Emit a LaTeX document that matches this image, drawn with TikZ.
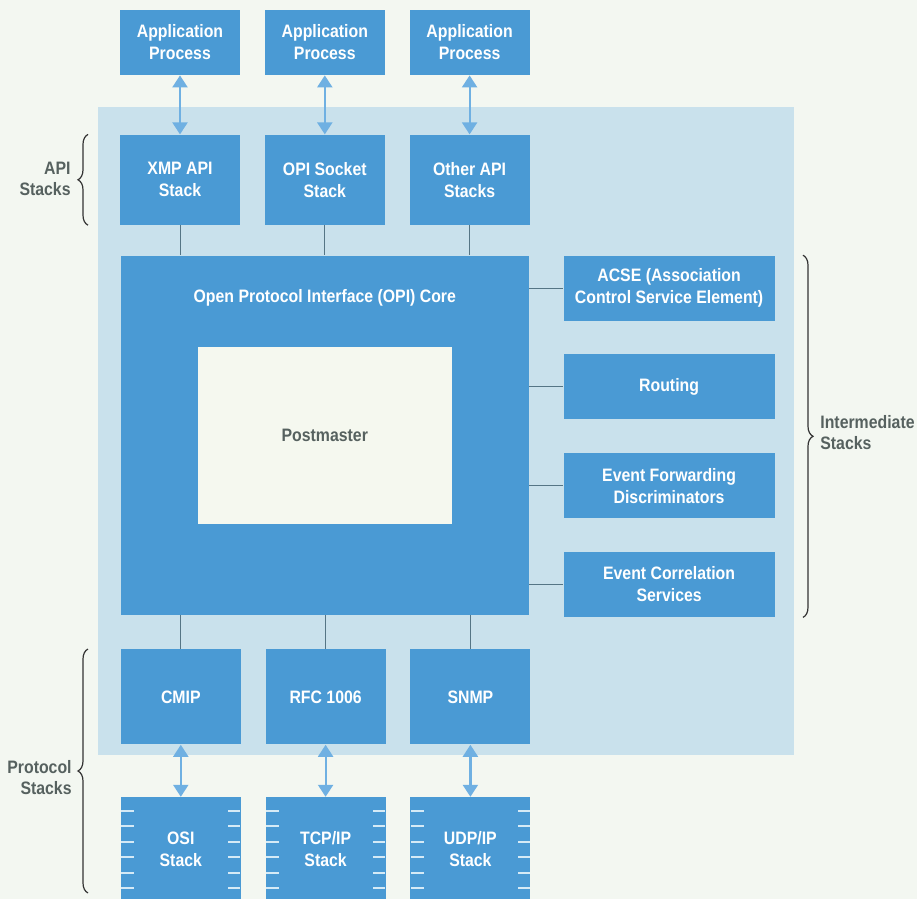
\documentclass[tikz,border=0pt]{standalone}
\usepackage{fontspec}
\setsansfont{Liberation Sans}[FakeStretch=0.88]
\renewcommand{\familydefault}{\sfdefault}
\usetikzlibrary{arrows.meta, positioning, decorations.pathreplacing, calc}
\definecolor{boxblue}{HTML}{4A9AD4}
\definecolor{arrowblue}{HTML}{6FB0E2}
\definecolor{panelblue}{HTML}{C9E1EC}
\definecolor{paper}{HTML}{F3F7F1}
\definecolor{wiregray}{HTML}{557585}
\definecolor{labelgray}{HTML}{56615F}
\definecolor{pmfill}{HTML}{F5F8EF}
\definecolor{tickwhite}{HTML}{D5EAF6}

\begin{document}
\begin{tikzpicture}[
    x=0.5pt, y=-0.5pt,
    box/.style={fill=boxblue, minimum width=60pt, inner sep=0pt, align=center,
                text=white, font=\fontsize{9}{11}\selectfont\bfseries},
    apbox/.style={box, minimum height=32.5pt},
    apibox/.style={box, minimum height=45pt},
    sidebox/.style={box, minimum width=105.5pt, minimum height=32.5pt},
    protobox/.style={box, minimum height=47.5pt},
    netbox/.style={box, minimum height=52pt},
    pmbox/.style={box, fill=pmfill, text=labelgray, minimum width=127pt,
                  minimum height=88.5pt},
    dbl/.style={{Triangle[length=6pt,width=7.5pt]}-{Triangle[length=6pt,width=7.5pt]},
                draw=arrowblue, line width=1.1pt},
    wire/.style={draw=wiregray, line width=0.5pt},
    tick/.style={draw=tickwhite, line width=1pt},
    grp/.style={decorate, decoration={brace, amplitude=5pt}, draw=black!80,
                line width=0.6pt},
    grplabel/.style={font=\fontsize{9}{10.5}\selectfont\bfseries, text=labelgray, inner sep=0pt}
  ]
  % page and panel
  \fill[paper] (0,0) rectangle (917,899);
  \useasboundingbox (0,0) rectangle (917,899);
  \fill[panelblue] (98,107) rectangle (794,755);

  % application processes and API stacks
  \node[apbox] (app1) at (180,42.5) {Application\\Process};
  \node[apbox, right=12pt of app1] (app2) {Application\\Process};
  \node[apbox, right=12pt of app2] (app3) {Application\\Process};
  \node[apibox, below=29.5pt of app1] (api1) {XMP API\\Stack};
  \node[apibox, right=12pt of api1] (api2) {OPI Socket\\Stack};
  \node[apibox, right=12pt of api2] (api3) {Other API\\Stacks};

  % core
  \node[box, minimum width=204pt, minimum height=179.5pt, below=15pt of api2] (core) {};
  \node[box, fill=none, below=17pt of core.north] (coretitle) {Open Protocol Interface (OPI) Core};
  \node[pmbox] (post) at (core.center) {Postmaster};

  % intermediate stacks
  \node[sidebox, right=17pt of core.north east, anchor=north west] (acse) {ACSE (Association\\Control Service Element)};
  \node[sidebox, below=16.5pt of acse] (routing) {Routing};
  \node[sidebox, below=16.5pt of routing] (evfwd) {Event Forwarding\\Discriminators};
  \node[sidebox, below=16.5pt of evfwd] (evcorr) {Event Correlation\\Services};

  % protocol stacks
  \node[protobox, below=17pt of core.south west, anchor=north west] (cmip) {CMIP};
  \node[protobox, right=12pt of cmip] (rfc) {RFC 1006};
  \node[protobox, right=12pt of rfc] (snmp) {SNMP};
  \node[netbox, below=26pt of cmip] (osi) {OSI\\Stack};
  \node[netbox, below=26pt of rfc] (tcp) {TCP/IP\\Stack};
  \node[netbox, below=26pt of snmp] (udp) {UDP/IP\\Stack};

  \foreach \n in {osi, tcp, udp} {
    \foreach \k in {0,...,5} {
      \draw[tick] ($(\n.north west)+(1,14+15.5*\k)$) -- ++(13,0);
      \draw[tick] ($(\n.north east)+(-1,14+15.5*\k)$) -- ++(-12,0);
    }
  }

  % connectors
  \draw[dbl] (app1) -- (api1);
  \draw[dbl] (app2) -- (api2);
  \draw[dbl] (app3) -- (api3);
  \draw[dbl] (cmip) -- (osi);
  \draw[dbl] (rfc) -- (tcp);
  \draw[dbl] (snmp) -- (udp);

  \draw[wire] (api1) -- (api1 |- core.north);
  \draw[wire] (api2) -- (api2 |- core.north);
  \draw[wire] (api3) -- (api3 |- core.north);
  \draw[wire] (cmip) -- (cmip |- core.south);
  \draw[wire] (rfc) -- (rfc |- core.south);
  \draw[wire] (snmp) -- (snmp |- core.south);
  \draw[wire] (acse) -- (acse -| core.east);
  \draw[wire] (routing) -- (routing -| core.east);
  \draw[wire] (evfwd) -- (evfwd -| core.east);
  \draw[wire] (evcorr) -- (evcorr -| core.east);

  % group braces
  \draw[grp] (88,0 |- api1.south) -- (88,0 |- api1.north);
  \node[grplabel, align=right, anchor=east] (apilbl) at (71,179) {API\\Stacks};
  \draw[grp] (88,893) -- (88,0 |- cmip.north);
  \node[grplabel, align=right, anchor=east] (protolbl) at (72,778) {Protocol\\Stacks};
  \draw[grp] (803,0 |- acse.north) -- (803,0 |- evcorr.south);
  \node[grplabel, align=left, anchor=west] (interlbl) at (820,433) {Intermediate\\Stacks};
\end{tikzpicture}
\end{document}
